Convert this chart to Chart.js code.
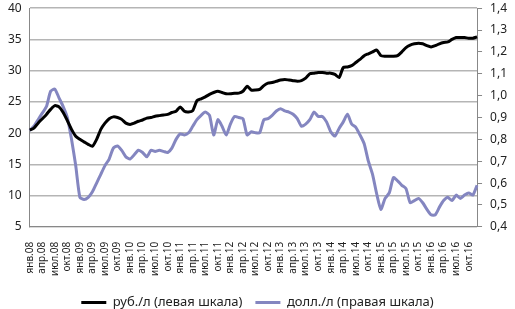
<!DOCTYPE html>
<html>
<head>
<meta charset="utf-8">
<script src="https://cdn.jsdelivr.net/npm/chart.js@4.4.1/dist/chart.umd.min.js"></script>
<style>
  html, body { margin: 0; padding: 0; background: #fff; overflow: hidden; }
  #wrap { width: 515px; height: 320px; margin-top: -7px; }
</style>
</head>
<body>
<div id="wrap"><canvas id="fuel"></canvas></div>
<script>
// months Jan 2008 .. Dec 2016
var monthNames = ["янв", "фев", "мар", "апр", "май", "июн", "июл", "авг", "сен", "окт", "ноя", "дек"];
var years = ["08", "09", "10", "11", "12", "13", "14", "15", "16"];

var labels = [];
years.forEach(function (y) {
  monthNames.forEach(function (m) { labels.push(m + "." + y); });
});

// руб./л (левая шкала)
var rubPerLitre = [
  20.5, 20.8, 21.6, 22.3, 23.0, 23.8, 24.4, 24.2, 23.3, 22.0, 20.6, 19.5,
  19.0, 18.6, 18.2, 17.9, 19.0, 20.6, 21.6, 22.3, 22.6, 22.5, 22.2, 21.6,
  21.4, 21.6, 21.9, 22.1, 22.4, 22.5, 22.7, 22.8, 22.9, 23.0, 23.3, 23.5,
  24.2, 23.5, 23.4, 23.6, 25.2, 25.5, 25.8, 26.2, 26.5, 26.7, 26.5, 26.3,
  26.3, 26.4, 26.4, 26.7, 27.5, 26.9, 26.9, 27.0, 27.6, 28.0, 28.1, 28.3,
  28.5, 28.6, 28.5, 28.4, 28.3, 28.4, 28.8, 29.5, 29.6, 29.7, 29.7, 29.6,
  29.6, 29.4, 28.9, 30.5, 30.6, 30.8, 31.3, 31.8, 32.4, 32.7, 33.0, 33.3,
  32.4, 32.3, 32.3, 32.3, 32.4, 33.0, 33.7, 34.1, 34.3, 34.4, 34.3, 34.0,
  33.8, 34.0, 34.3, 34.5, 34.6, 35.0, 35.3, 35.3, 35.3, 35.2, 35.2, 35.4
];

// долл./л (правая шкала)
var usdPerLitre = [
  0.84, 0.86, 0.89, 0.92, 0.95, 1.02, 1.03, 0.99, 0.95, 0.90, 0.80, 0.68,
  0.535, 0.525, 0.535, 0.56, 0.60, 0.64, 0.68, 0.71, 0.76, 0.77, 0.75, 0.72,
  0.71, 0.73, 0.75, 0.74, 0.72, 0.75, 0.745, 0.75, 0.745, 0.74, 0.76, 0.80,
  0.825, 0.82, 0.83, 0.86, 0.89, 0.91, 0.925, 0.91, 0.82, 0.89, 0.86, 0.82,
  0.87, 0.905, 0.90, 0.895, 0.82, 0.835, 0.83, 0.83, 0.89, 0.895, 0.91, 0.93,
  0.94, 0.93, 0.925, 0.915, 0.895, 0.86, 0.87, 0.89, 0.925, 0.905, 0.905, 0.88,
  0.835, 0.815, 0.85, 0.88, 0.915, 0.87, 0.855, 0.82, 0.78, 0.70, 0.64, 0.55,
  0.48, 0.53, 0.555, 0.625, 0.61, 0.59, 0.575, 0.51, 0.52, 0.53, 0.51, 0.48,
  0.455, 0.455, 0.49, 0.52, 0.535, 0.52, 0.545, 0.53, 0.545, 0.555, 0.545, 0.59
];

var leftTicks = [5, 10, 15, 20, 25, 30, 35, 40];
var rightTicks = [0.4, 0.5, 0.6, 0.7, 0.8, 0.9, 1.0, 1.1, 1.2, 1.3, 1.4];

var fontName = "'Noto Sans', 'DejaVu Sans', sans-serif";

var ctx = document.getElementById("fuel");
new Chart(ctx, {
  type: "line",
  data: {
    labels: labels,
    datasets: [
      {
        label: "руб./л (левая шкала)",
        data: rubPerLitre,
        yAxisID: "y",
        borderColor: "#000000",
        backgroundColor: "#000000",
        borderWidth: 3,
        pointRadius: 0,
        tension: 0.2,
      },
      {
        label: "долл./л (правая шкала)",
        data: usdPerLitre,
        yAxisID: "y1",
        borderColor: "#8486c0",
        backgroundColor: "#8486c0",
        borderWidth: 3,
        pointRadius: 0,
        tension: 0.2,
      },
    ],
  },
  options: {
    responsive: true,
    maintainAspectRatio: false,
    animation: false,
    layout: { padding: { left: 0, right: 0, top: -3, bottom: -6 } },
    plugins: {
      tooltip: { enabled: false },
      legend: {
        position: "bottom",
        labels: {
          usePointStyle: true,
          pointStyle: "line",
          pointStyleWidth: 25,
          boxHeight: 12,
          padding: 13,
          color: "#222",
          font: { family: fontName, size: 13 },
        },
      },
    },
    scales: {
      x: {
        offset: false,
        grid: { display: false },
        border: { display: true, color: "#888", width: 1 },
        ticks: {
          autoSkip: false,
          maxRotation: 90,
          minRotation: 90,
          padding: 7,
          color: "#222",
          font: { family: fontName, size: 10 },
          callback: function (v, i) {
            return i % 3 === 0 ? labels[i] : null;
          },
        },
      },
      y: {
        position: "left",
        min: 5,
        max: 40,
        afterBuildTicks: function (axis) {
          axis.ticks = leftTicks.map(function (v) { return { value: v }; });
        },
        grid: { color: "#b5b5b5", lineWidth: 1.5, drawTicks: false },
        border: { display: true, color: "#888", width: 1 },
        ticks: {
          padding: 8,
          color: "#222",
          font: { family: fontName, size: 12 },
        },
      },
      y1: {
        position: "right",
        min: 0.4,
        max: 1.4,
        afterBuildTicks: function (axis) {
          axis.ticks = rightTicks.map(function (v) { return { value: v }; });
        },
        grid: { drawOnChartArea: false, drawTicks: true, tickLength: 5, color: "#888" },
        border: { display: true, color: "#888", width: 1 },
        ticks: {
          padding: 8,
          color: "#222",
          font: { family: fontName, size: 12 },
          callback: function (v) { return v.toFixed(1).replace(".", ","); },
        },
      },
    },
  },
});
</script>
</body>
</html>
